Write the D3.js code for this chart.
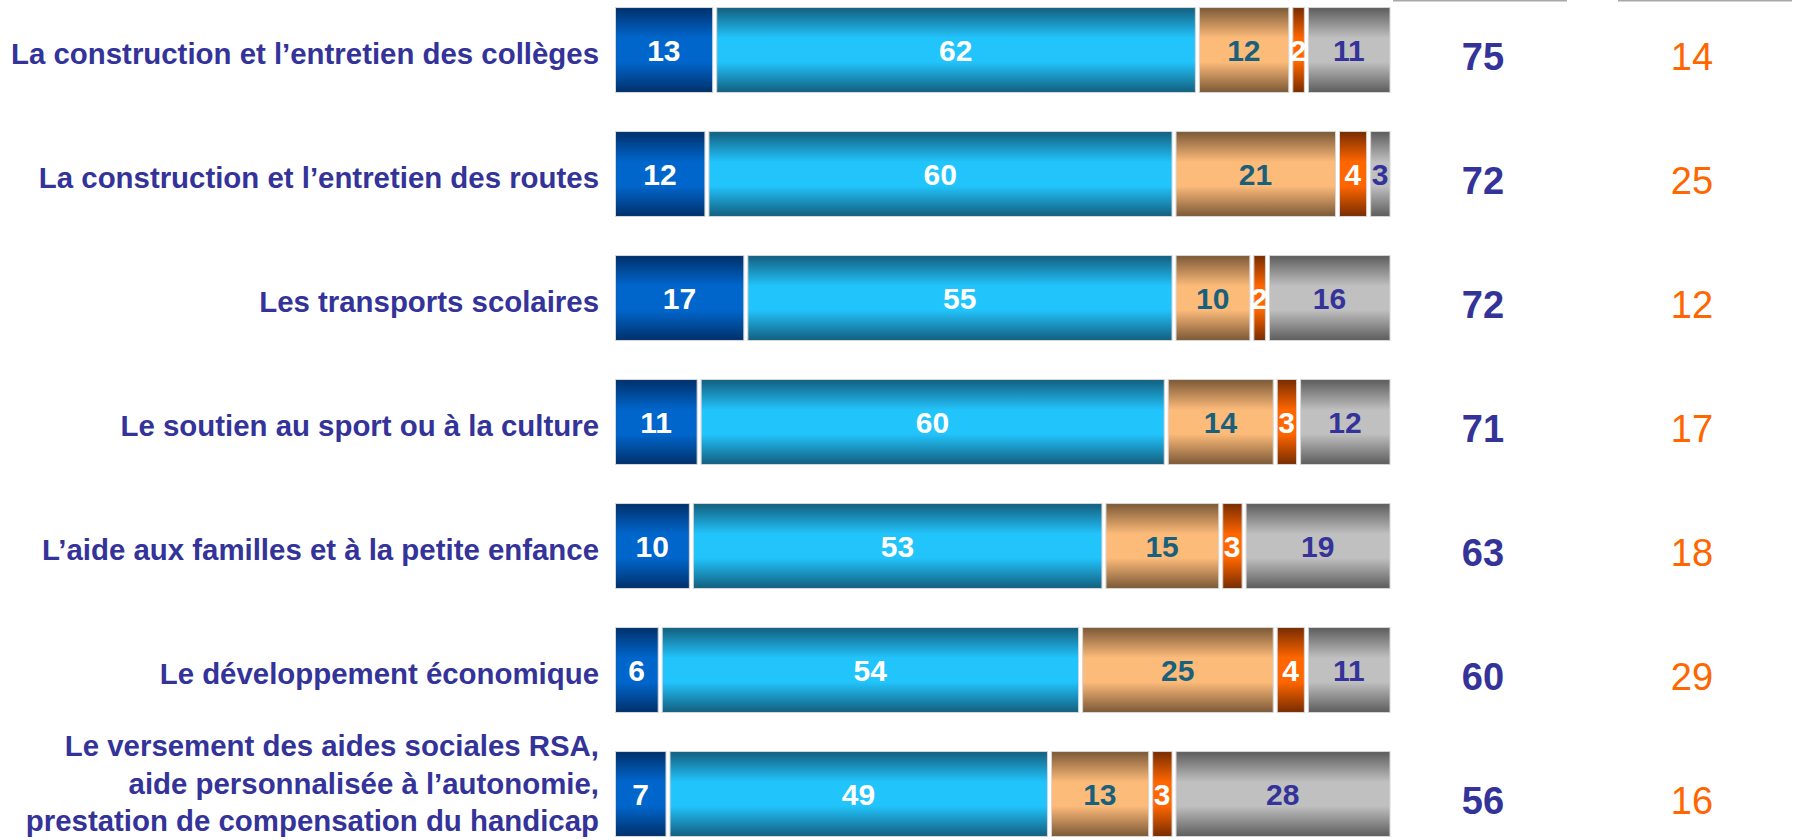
<!DOCTYPE html>
<html>
<head>
<meta charset="utf-8">
<script src="https://cdn.jsdelivr.net/npm/d3@7"></script>
<style>
  html, body { margin: 0; padding: 0; background: #fff; }
  svg { display: block; font-family: "Liberation Sans", Arial, sans-serif; }
</style>
</head>
<body>
<svg id="chart" width="1805" height="840"></svg>
<script>
// categories (line breaks marked with \n)
var categories = [
  'La construction et l\u2019entretien des coll\u00e8ges',
  'La construction et l\u2019entretien des routes',
  'Les transports scolaires',
  'Le soutien au sport ou \u00e0 la culture',
  'L\u2019aide aux familles et \u00e0 la petite enfance',
  'Le d\u00e9veloppement \u00e9conomique',
  'Le versement des aides sociales RSA,\naide personnalis\u00e9e \u00e0 l\u2019autonomie,\nprestation de compensation du handicap'
];

// series, in stacking order
var tresSatisfaits = [13, 12, 17, 11, 10, 6, 7];
var plutotSatisfaits = [62, 60, 55, 60, 53, 54, 49];
var plutotPasSatisfaits = [12, 21, 10, 14, 15, 25, 13];
var pasDuToutSatisfaits = [2, 4, 2, 3, 3, 4, 3];
var nsp = [11, 3, 16, 12, 19, 11, 28];

// totals on the right
var totalSatisfaits = [75, 72, 72, 71, 63, 60, 56];
var totalPasSatisfaits = [14, 25, 12, 17, 18, 29, 16];

(function (d3) {
  'use strict';

  var svg = d3.select('#chart');

  var series = [
    { key: 'ts', values: tresSatisfaits, dark: '#00306a', light: '#0066cc', text: '#ffffff' },
    { key: 'ps', values: plutotSatisfaits, dark: '#135e7e', light: '#22c4fc', text: '#ffffff' },
    { key: 'pps', values: plutotPasSatisfaits, dark: '#7b5836', light: '#fdbb7a', text: '#19607c' },
    { key: 'pds', values: pasDuToutSatisfaits, dark: '#772c00', light: '#ff6600', text: '#ffffff' },
    { key: 'nsp', values: nsp, dark: '#5c5c5c', light: '#c0c0c0', text: '#333399' }
  ];

  var x = d3.scaleLinear().domain([0, 100]).range([615, 1393.5]);
  var y = d3.scaleBand().domain(d3.range(categories.length))
    .range([-12, 856]).paddingInner(0.315).paddingOuter(0.1575);

  /** gradients, dark at the edges, light in the middle */
  var defs = svg.append('defs');
  series.forEach(function (s) {
    var g = defs.append('linearGradient').attr('id', 'grad-' + s.key)
      .attr('x1', 0).attr('x2', 0).attr('y1', 0).attr('y2', 1);
    [[0, s.dark], [0.36, s.light], [0.64, s.light], [1, s.dark]].forEach(function (st) {
      g.append('stop').attr('offset', st[0]).attr('stop-color', st[1]);
    });
  });

  /** stacked rows */
  var rows = svg.append('g').attr('class', 'rows').selectAll('g')
    .data(categories).enter().append('g')
    .attr('transform', function (d, i) { return 'translate(0,' + y(i) + ')'; });

  rows.each(function (cat, i) {
    var row = d3.select(this);
    var cum = 0;
    series.forEach(function (s) {
      var v = s.values[i];
      var x0 = x(cum);
      var x1 = x(cum + v);
      cum += v;
      row.append('rect')
        .attr('x', x0 + 0.5)
        .attr('y', 0)
        .attr('width', Math.max(1, x1 - x0 - 4))
        .attr('height', y.bandwidth())
        .attr('fill', 'url(#grad-' + s.key + ')')
        .attr('stroke', '#d6d6d6')
        .attr('stroke-width', 1);
      row.append('text')
        .attr('x', x0 + (x1 - x0 - 3.5) / 2)
        .attr('y', y.bandwidth() / 2 + 11)
        .attr('text-anchor', 'middle')
        .attr('font-size', 30)
        .attr('font-weight', 'bold')
        .attr('fill', s.text)
        .text(v);
    });
  });

  /** category labels */
  var labels = svg.append('g').attr('class', 'labels').selectAll('text')
    .data(categories).enter().append('text')
    .attr('text-anchor', 'end')
    .attr('font-size', 29.4)
    .attr('font-weight', 'bold')
    .attr('fill', '#333399');

  labels.each(function (cat, i) {
    var lines = cat.split('\n');
    var cy = y(i) + y.bandwidth() / 2;
    var base = lines.length > 1 ? -0.5 : 14;
    var el = d3.select(this);
    lines.forEach(function (line, j) {
      el.append('tspan')
        .attr('x', 599)
        .attr('y', cy + base + (j - (lines.length - 1) / 2) * 37.5)
        .text(line);
    });
  });

  /** right-hand totals */
  var colSat = 1483;
  var colPas = 1692;

  svg.append('g').selectAll('line').data([[1393, 1567], [1618, 1792]]).enter()
    .append('line')
    .attr('x1', function (d) { return d[0]; })
    .attr('x2', function (d) { return d[1]; })
    .attr('y1', 0.5).attr('y2', 0.5)
    .attr('stroke', '#a8a8a8').attr('stroke-width', 2);

  svg.append('g').selectAll('text').data(totalSatisfaits).enter().append('text')
    .attr('x', colSat)
    .attr('y', function (d, i) { return y(i) + y.bandwidth() / 2 + 20; })
    .attr('text-anchor', 'middle')
    .attr('font-size', 38)
    .attr('font-weight', 'bold')
    .attr('fill', '#333399')
    .text(function (d) { return d; });

  svg.append('g').selectAll('text').data(totalPasSatisfaits).enter().append('text')
    .attr('x', colPas)
    .attr('y', function (d, i) { return y(i) + y.bandwidth() / 2 + 20; })
    .attr('text-anchor', 'middle')
    .attr('font-size', 38)
    .attr('fill', '#ff6600')
    .text(function (d) { return d; });

})(d3);
</script>
</body>
</html>
